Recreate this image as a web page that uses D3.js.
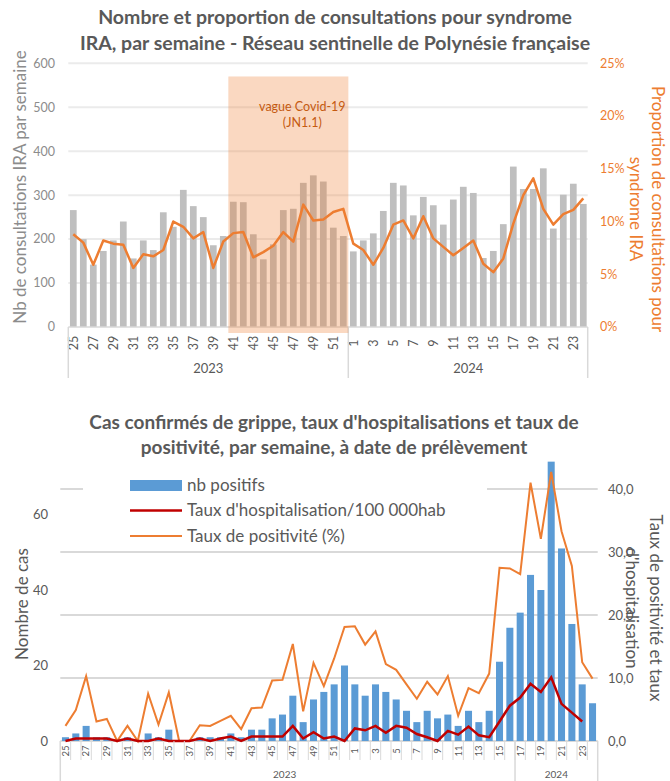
<!DOCTYPE html>
<html lang="fr">
<head>
  <meta charset="UTF-8">
  <title>Syndrome IRA et grippe - Polynésie française</title>
  <script src="https://d3js.org/d3.v7.min.js"></script>
  <style>
    body { margin: 0; background: #fff; }
    svg { font-family: Lato, "Open Sans", sans-serif; display: block; }
    .title { font-weight: bold; fill: #595959; text-anchor: middle; }
    .tick line { display: none; }
    .domain { display: none; }
  </style>
</head>
<body>
  <svg id="chart" width="670" height="781"></svg>
  <script>
    // semaines (catégories)
    const weeks2023 = [25, 26, 27, 28, 29, 30, 31, 32, 33, 34, 35, 36, 37, 38, 39, 40, 41, 42, 43, 44, 45, 46, 47, 48, 49, 50, 51, 52];
    const weeks2024 = [1, 2, 3, 4, 5, 6, 7, 8, 9, 10, 11, 12, 13, 14, 15, 16, 17, 18, 19, 20, 21, 22, 23, 24];

    // graphique 1 : consultations IRA
    const consultations = [266, 200, 142, 173, 197, 240, 156, 197, 175, 261, 228, 312, 275, 250, 186, 207, 285, 284, 211, 154, 188, 266, 269, 328, 345, 331, 226, 207,
                           172, 197, 213, 264, 328, 322, 254, 296, 277, 233, 290, 319, 305, 157, 173, 234, 365, 314, 314, 361, 224, 301, 326, 280];
    const proportionIRA = [8.8, 8.0, 5.9, 8.2, 7.9, 7.8, 5.6, 6.9, 6.7, 7.3, 10.0, 9.5, 8.4, 9.0, 5.6, 8.1, 8.9, 9.0, 6.6, 7.1, 7.7, 9.0, 8.1, 11.6, 10.1, 10.2, 10.9, 11.2,
                           7.9, 7.3, 5.9, 7.5, 9.7, 10.1, 8.4, 10.5, 8.4, 7.6, 6.8, 7.5, 8.2, 6.0, 5.2, 6.5, 9.8, 12.5, 14.1, 11.2, 9.7, 10.7, 11.1, 12.2];
    const topLeftTicks = [0, 100, 200, 300, 400, 500, 600];
    const topRightTicks = [0, 5, 10, 15, 20, 25];

    // graphique 2 : grippe
    const nbPositifs = [1, 2, 4, 1, 1, 0, 1, 0, 2, 1, 3, 0, 0, 1, 1, 1, 2, 1, 3, 3, 6, 7, 12, 5, 11, 13, 15, 20,
                        15, 12, 15, 13, 11, 8, 5, 8, 6, 7, 4, 8, 5, 8, 21, 30, 34, 44, 40, 74, 51, 31, 15, 10];
    const tauxHospit = [0, 0.4, 0.4, 0.4, 0.4, 0, 0.4, 0, 0, 0.4, 0, 0, 0, 0.4, 0, 0.4, 0.7, 0, 0.7, 0.7, 0.7, 0.7, 2.4, 0.4, 1.4, 0.4, 0.7, 0,
                        2.0, 1.7, 2.4, 1.3, 2.4, 2.1, 1.1, 0.6, 0, 1.6, 1.0, 2.3, 0.9, 0.6, 3.1, 5.6, 6.9, 9.1, 7.8, 10.1, 5.9, 4.5, 3.1, null];
    const tauxPositivite = [2.4, 4.9, 10.3, 3.1, 3.5, 0, 2.4, 0, 7.5, 2.6, 7.7, 0, 0, 2.5, 2.4, 3.2, 4.0, 1.9, 5.2, 5.3, 9.6, 9.7, 15.4, 4.7, 12.4, 8.7, 13.1, 18.1,
                            18.2, 15.3, 17.4, 12.2, 11.3, 9.0, 6.7, 9.4, 7.4, 10.3, 4.0, 8.4, 7.6, 10.7, 27.5, 27.4, 26.5, 41.0, 32.1, 42.7, 33.3, 27.8, 12.5, 9.9];
    const bottomLeftTicks = [0, 20, 40, 60];
    const bottomRightTicks = [0, 10, 20, 30, 40];

    const keys = weeks2023.map(w => "2023-" + w).concat(weeks2024.map(w => "2024-" + w));
    const weekOf = k => +k.split("-")[1];

    const svg = d3.select("#chart");
    const grey = "#595959";
    const orange = "#ed7d31";

    // ---------- graphique 1 ----------
    const box1 = { left: 68.3, right: 588.3, top: 63.3, bottom: 327 };
    const x1 = d3.scaleBand().domain(keys).range([box1.left, box1.right]).paddingInner(0.33).paddingOuter(0.165);
    const y1 = d3.scaleLinear().domain([0, 600]).range([box1.bottom, box1.top]);
    const y1r = d3.scaleLinear().domain([0, 25]).range([box1.bottom, box1.top]);
    const g1 = svg.append("g");

    g1.append("text").attr("class", "title").attr("x", 335).attr("y", 24).style("font-size", "19.5px")
      .text("Nombre et proportion de consultations pour syndrome");
    g1.append("text").attr("class", "title").attr("x", 335).attr("y", 50).style("font-size", "19.5px")
      .text("IRA, par semaine - Réseau sentinelle de Polynésie française");

    // grille
    g1.selectAll(".grid").data(topLeftTicks.slice(1)).enter().append("line")
      .attr("x1", box1.left).attr("x2", box1.right - 0.6)
      .attr("y1", d => y1(d)).attr("y2", d => y1(d))
      .attr("stroke", "#ebebeb").attr("stroke-width", 2);

    g1.selectAll(".bar").data(keys).enter().append("rect")
      .attr("x", d => x1(d)).attr("width", x1.bandwidth())
      .attr("y", (d, i) => y1(consultations[i]))
      .attr("height", (d, i) => y1(0) - y1(consultations[i]))
      .attr("fill", "#bfbfbf");

    // axe des catégories
    const bandL = x1("2023-41") - 1.6;
    const bandR = x1("2023-52") + x1.step() - 1.6;
    const ax1 = g1.append("g").attr("transform", "translate(0," + box1.bottom + ")")
      .call(d3.axisBottom(x1).tickSize(0).tickFormat(d => weekOf(d) % 2 ? weekOf(d) : ""));
    ax1.selectAll("text").attr("transform", "rotate(-90)").attr("x", -16).attr("y", 0).attr("dy", "0.35em")
      .style("text-anchor", "middle").style("font-size", "12.5px").attr("fill", grey).style("font-family", "Lato, sans-serif");
    g1.append("line").attr("x1", box1.left).attr("x2", box1.right - 0.6).attr("y1", box1.bottom).attr("y2", box1.bottom)
      .attr("stroke", "#d9d9d9").attr("stroke-width", 1.5);
    const sep1 = x1("2024-1") - x1.step() * 0.165;
    [box1.left, sep1, box1.right - 0.6].forEach(xv => {
      g1.append("line").attr("x1", xv).attr("x2", xv).attr("y1", box1.bottom).attr("y2", 378)
        .attr("stroke", "#d9d9d9").attr("stroke-width", 1.5);
    });
    g1.append("text").attr("x", (box1.left + sep1) / 2).attr("y", 373).attr("text-anchor", "middle")
      .style("font-size", "13px").attr("fill", grey).text("2023");
    g1.append("text").attr("x", (sep1 + box1.right) / 2).attr("y", 373).attr("text-anchor", "middle")
      .style("font-size", "13px").attr("fill", grey).text("2024");

    // zone vague Covid-19
    g1.append("rect").attr("x", bandL).attr("width", bandR - bandL)
      .attr("y", y1(570)).attr("height", y1(0) - y1(570) + 6)
      .attr("fill", orange).attr("fill-opacity", 0.3);
    g1.append("text").attr("x", (bandL + bandR) / 2 + 14).attr("y", y1(570) + 35).attr("text-anchor", "middle")
      .style("font-size", "12.5px").attr("fill", "#c55a11").text("vague Covid-19");
    g1.append("text").attr("x", (bandL + bandR) / 2 + 14).attr("y", y1(570) + 51).attr("text-anchor", "middle")
      .style("font-size", "12.5px").attr("fill", "#c55a11").text("(JN1.1)");

    const line1 = d3.line().x(d => x1(d.k) + x1.bandwidth() / 2).y(d => y1r(d.v));
    g1.append("path").datum(keys.map((k, i) => ({ k: k, v: proportionIRA[i] })))
      .attr("d", line1).attr("fill", "none").attr("stroke", orange).attr("stroke-width", 2.5)
      .attr("stroke-linejoin", "round");

    // axes y
    g1.selectAll(".yl").data(topLeftTicks).enter().append("text")
      .attr("x", 55).attr("y", d => y1(d)).attr("dy", "0.35em").attr("text-anchor", "end")
      .style("font-size", "12.5px").attr("fill", "#8c8c8c").text(d => d);
    g1.selectAll(".yr").data(topRightTicks).enter().append("text")
      .attr("x", 600).attr("y", d => y1r(d)).attr("dy", "0.35em")
      .style("font-size", "12.5px").attr("fill", orange).text(d => d + "%");
    g1.append("text").attr("transform", "translate(20,187) rotate(-90)").attr("text-anchor", "middle")
      .attr("dy", "0.35em").style("font-size", "17px").attr("fill", "#8c8c8c")
      .text("Nb de consultations IRA par semaine");
    g1.append("text").attr("transform", "translate(658,209) rotate(90)").attr("text-anchor", "middle")
      .attr("dy", "0.35em").style("font-size", "17px").attr("fill", orange)
      .text("Proportion de consultations pour");
    g1.append("text").attr("transform", "translate(636,209) rotate(90)").attr("text-anchor", "middle")
      .attr("dy", "0.35em").style("font-size", "17px").attr("fill", orange)
      .text("syndrome IRA");

    // ---------- graphique 2 ----------
    const box2 = { left: 60.3, right: 597.7, bottom: 741 };
    const x2 = d3.scaleBand().domain(keys).range([box2.left, box2.right]).paddingInner(0.32).paddingOuter(0.16);
    const y2 = d3.scaleLinear().domain([0, 80]).range([box2.bottom, 439]);
    const y2r = d3.scaleLinear().domain([0, 48]).range([box2.bottom, 438.6]);
    const g2 = svg.append("g");

    g2.append("text").attr("class", "title").attr("x", 334).attr("y", 429).style("font-size", "19px")
      .text("Cas confirmés de grippe, taux d'hospitalisations et taux de");
    g2.append("text").attr("class", "title").attr("x", 334).attr("y", 454).style("font-size", "19px")
      .text("positivité, par semaine, à date de prélèvement");

    g2.selectAll(".grid").data(bottomRightTicks).enter().append("line")
      .attr("x1", box2.left).attr("x2", box2.right)
      .attr("y1", d => y2r(d)).attr("y2", d => y2r(d))
      .attr("stroke", "#d9d9d9").attr("stroke-width", 2);

    g2.selectAll(".bar").data(keys).enter().append("rect")
      .attr("x", d => x2(d)).attr("width", x2.bandwidth())
      .attr("y", (d, i) => y2(nbPositifs[i]))
      .attr("height", (d, i) => y2(0) - y2(nbPositifs[i]))
      .attr("fill", "#5b9bd5");

    const line2 = d3.line().defined(d => d.v != null)
      .x(d => x2(d.k) + x2.bandwidth() / 2).y(d => y2r(d.v));
    g2.append("path").datum(keys.map((k, i) => ({ k: k, v: tauxPositivite[i] })))
      .attr("d", line2).attr("fill", "none").attr("stroke", orange).attr("stroke-width", 2);
    g2.append("path").datum(keys.map((k, i) => ({ k: k, v: tauxHospit[i] })))
      .attr("d", line2).attr("fill", "none").attr("stroke", "#c00000").attr("stroke-width", 2.5);

    // axe des catégories
    const ax2 = g2.append("g").attr("transform", "translate(0," + box2.bottom + ")")
      .call(d3.axisBottom(x2).tickSize(0).tickFormat(d => weekOf(d) % 2 ? weekOf(d) : ""));
    ax2.selectAll("text").attr("transform", "rotate(-90)").attr("x", -10).attr("y", 0).attr("dy", "0.35em")
      .style("text-anchor", "middle").style("font-size", "9.5px").attr("fill", grey).style("font-family", "Lato, sans-serif");
    const inner = x2.step() * 0.16;
    keys.forEach(k => {
      const xv = x2(k) - inner;
      g2.append("line").attr("x1", xv).attr("x2", xv).attr("y1", box2.bottom).attr("y2", 760)
        .attr("stroke", "#d9d9d9").attr("stroke-width", 1);
    });
    const sep2 = x2("2024-17") - inner;
    [box2.left, sep2, box2.right].forEach(xv => {
      g2.append("line").attr("x1", xv).attr("x2", xv).attr("y1", box2.bottom).attr("y2", 781)
        .attr("stroke", "#d9d9d9").attr("stroke-width", 1.5);
    });
    g2.append("text").attr("x", (box2.left + sep2) / 2 - 3).attr("y", 778).attr("text-anchor", "middle")
      .style("font-size", "10px").attr("fill", grey).text("2023");
    g2.append("text").attr("x", (sep2 + box2.right) / 2).attr("y", 778).attr("text-anchor", "middle")
      .style("font-size", "10px").attr("fill", grey).text("2024");

    // axes y
    g2.selectAll(".yl").data(bottomLeftTicks).enter().append("text")
      .attr("x", 48).attr("y", d => y2(d)).attr("dy", "0.35em").attr("text-anchor", "end")
      .style("font-size", "13px").attr("fill", grey).text(d => d);
    g2.selectAll(".yr").data(bottomRightTicks).enter().append("text")
      .attr("x", 608).attr("y", d => y2r(d)).attr("dy", "0.35em")
      .style("font-size", "13px").attr("fill", grey).text(d => d3.format(".1f")(d).replace(".", ","));
    g2.append("text").attr("transform", "translate(22,604) rotate(-90)").attr("text-anchor", "middle")
      .attr("dy", "0.35em").style("font-size", "17px").attr("fill", grey).text("Nombre de cas");
    g2.append("text").attr("transform", "translate(656,608) rotate(90)").attr("text-anchor", "middle")
      .attr("dy", "0.35em").style("font-size", "17px").attr("fill", grey).text("Taux de positivité et taux");
    g2.append("text").attr("transform", "translate(632,608) rotate(90)").attr("text-anchor", "middle")
      .attr("dy", "0.35em").style("font-size", "17px").attr("fill", grey).text("d'hospitalisation");

    // légende (fond blanc qui masque la grille)
    const leg = g2.append("g");
    leg.append("rect").attr("x", 83).attr("y", 470).attr("width", 404).attr("height", 78).attr("fill", "#fff");
    const legItems = [
      { label: "nb positifs", type: "bar", color: "#5b9bd5", y: 485.5 },
      { label: "Taux d'hospitalisation/100 000hab", type: "line", color: "#c00000", y: 510.5 },
      { label: "Taux de positivité (%)", type: "line", color: orange, y: 536 }
    ];
    legItems.forEach(it => {
      if (it.type === "bar") {
        leg.append("rect").attr("x", 130).attr("y", it.y - 5.5).attr("width", 52).attr("height", 11).attr("fill", it.color);
      } else {
        leg.append("line").attr("x1", 130).attr("x2", 182).attr("y1", it.y).attr("y2", it.y)
          .attr("stroke", it.color).attr("stroke-width", it.color === orange ? 2 : 2.5);
      }
      leg.append("text").attr("x", 187).attr("y", it.y).attr("dy", "0.35em")
        .style("font-size", "17px").attr("fill", grey).text(it.label);
    });
  </script>
</body>
</html>
